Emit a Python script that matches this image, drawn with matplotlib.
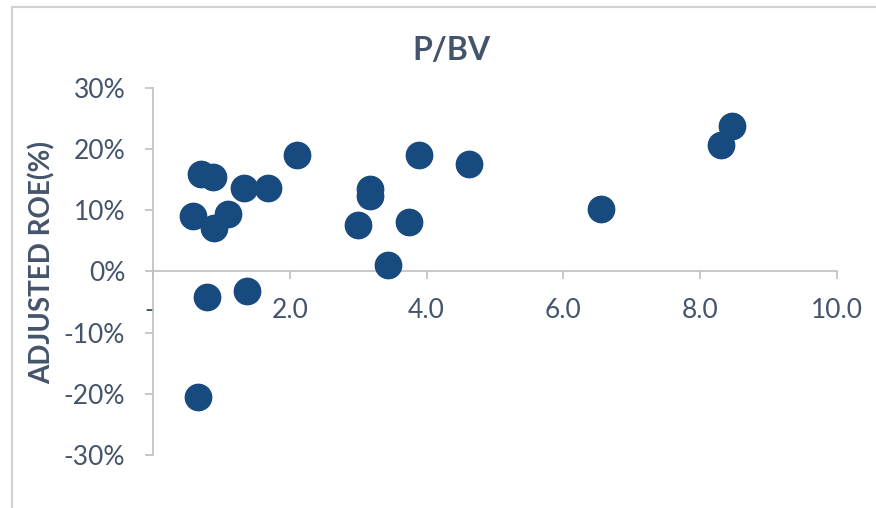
import matplotlib.pyplot as plt
from matplotlib.patches import Rectangle
from matplotlib.ticker import FuncFormatter

# P/BV vs adjusted ROE
pbv = [0.59, 0.70, 0.88, 0.89, 1.09, 1.33, 1.68, 2.11, 2.99, 3.17, 3.17,
       3.74, 3.89, 3.44, 0.79, 1.38, 0.66, 4.62, 6.55, 8.31, 8.46]
roe = [9.0, 16.0, 15.5, 7.1, 9.4, 13.6, 13.7, 19.0, 7.6, 13.5, 12.3,
       8.1, 19.0, 1.1, -4.2, -3.2, -20.5, 17.6, 10.2, 20.6, 23.8]

x_ticks = [0, 2, 4, 6, 8, 10]
x_labels = ['- ', '2.0', '4.0', '6.0', '8.0', '10.0']
y_ticks = [-30, -20, -10, 0, 10, 20, 30]

txt = '#44546A'
grey = '#BFBFBF'
blue = '#174A7E'

plt.rcParams['font.family'] = ['Lato', 'DejaVu Sans']

fig = plt.figure(figsize=(8.76, 5.08), dpi=100)
W, H = 876, 508
ax = fig.add_axes([153 / W, 1 - 455 / H, (837 - 153) / W, (455 - 88) / H])

ax.scatter(pbv, roe, s=360, color=blue, zorder=3, clip_on=False)

ax.set_xlim(0, 10)
ax.set_ylim(-30, 30)
ax.set_xticks(x_ticks)
ax.set_xticklabels(x_labels)
ax.set_yticks(y_ticks)
ax.yaxis.set_major_formatter(FuncFormatter(lambda v, p: f'{v:.0f}%'))

for s in ['top', 'right']:
    ax.spines[s].set_visible(False)
ax.spines['bottom'].set_position(('data', 0))
ax.spines['left'].set_color(grey)
ax.spines['bottom'].set_color(grey)
ax.spines['left'].set_linewidth(1.2)
ax.spines['bottom'].set_linewidth(1.2)

ax.tick_params(axis='both', colors=grey, labelcolor=txt, labelsize=19,
               length=6, width=1.2, direction='out')
ax.tick_params(axis='x', pad=13)
ax.tick_params(axis='y', pad=14)

fig.text(42 / W, 1 - 262 / H, 'ADJUSTED ROE(%)', fontsize=20,
         fontweight='bold', color=txt, rotation=90, ha='center', va='center')

fig.text(451 / W, 1 - 50 / H, 'P/BV', fontsize=23, fontweight='bold',
         color=txt, ha='center', va='center')

# chart area border (cropped on the right and bottom)
fig.patches.append(Rectangle((12 / W, -0.1), 1.2, 1 - 7 / H + 0.1,
                             transform=fig.transFigure, fill=False,
                             edgecolor='#D0D0D0', linewidth=1.5))

fig.savefig('out.png', dpi=100)
